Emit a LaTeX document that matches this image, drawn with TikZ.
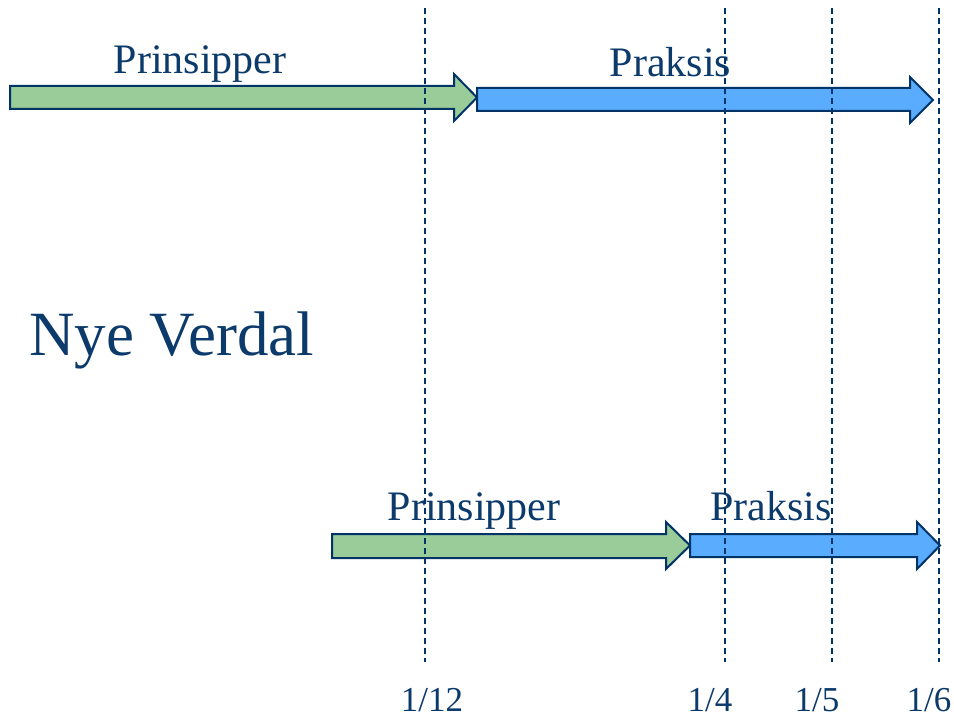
\documentclass[tikz,border=0pt]{standalone}
\usepackage{fontspec}
\setmainfont{Liberation Serif}
\definecolor{navy}{HTML}{003366}
\definecolor{txtblue}{HTML}{0B3A6B}
\definecolor{pgreen}{HTML}{99CC99}
\definecolor{pblue}{HTML}{5AACFF}
\begin{document}
\begin{tikzpicture}[x=1pt,y=-1pt,
  arrowshape/.style={draw=navy,line width=2pt,line join=miter},
  guide/.style={draw=navy,line width=1.5pt,dash pattern=on 6pt off 4pt},
  lbl/.style={text=txtblue,anchor=base,inner sep=0pt,font=\fontsize{42}{48}\selectfont},
  frac/.style={text=txtblue,anchor=base,inner sep=0pt,font=\fontsize{35}{40}\selectfont}]
\useasboundingbox (0,0) rectangle (954,717);
% top arrows
\draw[arrowshape,fill=pgreen] (10,86) -- (454,86) -- (454,74) -- (477,97.5) -- (454,121) -- (454,109) -- (10,109) -- cycle;
\draw[arrowshape,fill=pblue] (477,88) -- (910,88) -- (910,77) -- (933,100) -- (910,123) -- (910,111) -- (477,111) -- cycle;
% bottom arrows
\draw[arrowshape,fill=pgreen] (332,534) -- (666,534) -- (666,522) -- (690,545.5) -- (666,569) -- (666,558) -- (332,558) -- cycle;
\draw[arrowshape,fill=pblue] (690,534) -- (917,534) -- (917,522) -- (940,545.5) -- (917,569) -- (917,557) -- (690,557) -- cycle;
% labels
\node[lbl] (p1) at (200,73.5) {Prinsipper};
\node[lbl] (r1) at (670.5,77) {Praksis};
\node[lbl] (p2) at (474,520) {Prinsipper};
\node[lbl] (r2) at (771,520) {Praksis};
\node[text=txtblue,anchor=base west,inner sep=0pt,font=\fontsize{63}{72}\selectfont] (nv) at (29,355) {Nye Verdal};
% guide lines
\coordinate (a1) at (425,8); \coordinate (a2) at (425,662);
\coordinate (b1) at (725,8); \coordinate (b2) at (725,662);
\coordinate (c1) at (832,8); \coordinate (c2) at (832,662);
\coordinate (d1) at (939,8); \coordinate (d2) at (939,662);
\draw[guide] (a1) -- (a2);
\draw[guide] (b1) -- (b2);
\draw[guide] (c1) -- (c2);
\draw[guide] (d1) -- (d2);
\node[frac] (f1) at (432,711) {1/12};
\node[frac] (f2) at (710,711) {1/4};
\node[frac] (f3) at (817,711) {1/5};
\node[frac] (f4) at (929,711) {1/6};
\end{tikzpicture}
\end{document}
